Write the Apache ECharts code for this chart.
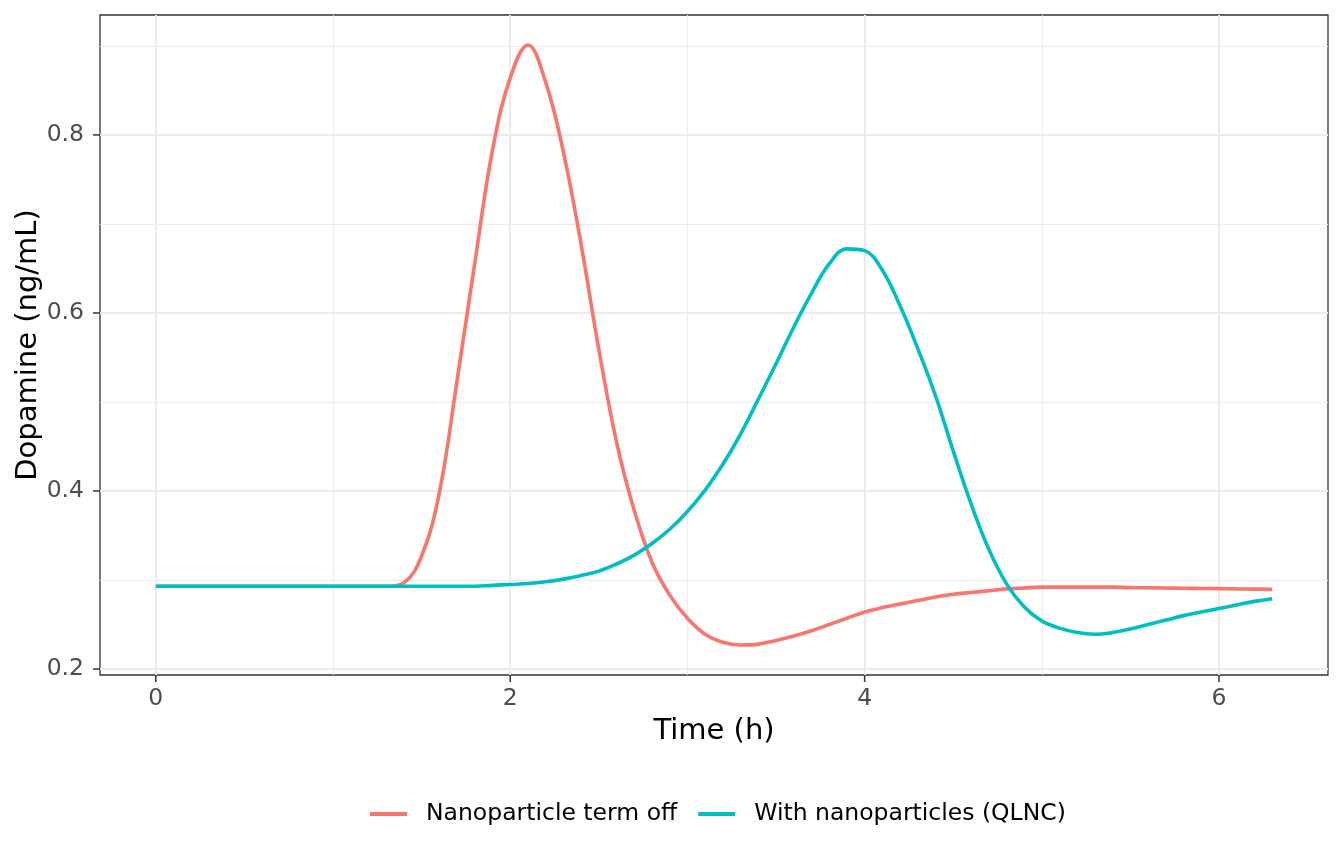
<!DOCTYPE html>
<html lang="en">
<head>
    <meta charset="UTF-8">
    <title>Dopamine</title>
    <script src="https://cdn.jsdelivr.net/npm/echarts@6/dist/echarts.min.js"></script>
    <style>
        html, body { margin: 0; padding: 0; background: #fff; }
        #main { width: 1344px; height: 864px; }
    </style>
</head>
<body>
<div id="main"></div>
<script>
    // time grid (h)
    var timeH = [];
    for (var i = 0; i <= 63; i++) timeH.push(+(i * 0.1).toFixed(1));

    // Nanoparticle term off
    var termOff = [
        0.293, 0.293, 0.293, 0.293, 0.293, 0.293, 0.293, 0.293, 0.293, 0.293,
        0.293, 0.293, 0.293, 0.293, 0.297, 0.327, 0.398, 0.524, 0.656, 0.783,
        0.864, 0.901, 0.859, 0.781, 0.677, 0.559, 0.455, 0.378, 0.320, 0.283,
        0.257, 0.239, 0.230, 0.227, 0.228, 0.232, 0.237, 0.243, 0.250, 0.257,
        0.264, 0.269, 0.273, 0.277, 0.281, 0.284, 0.286, 0.288, 0.290, 0.291,
        0.292, 0.292, 0.292, 0.292, 0.292, 0.2915, 0.2913, 0.291, 0.2907, 0.2905,
        0.2903, 0.290, 0.2898, 0.2895
    ];

    // With nanoparticles (QLNC)
    var withNano = [
        0.293, 0.293, 0.293, 0.293, 0.293, 0.293, 0.293, 0.293, 0.293, 0.293,
        0.293, 0.293, 0.293, 0.293, 0.293, 0.293, 0.293, 0.293, 0.293, 0.294,
        0.295, 0.296, 0.298, 0.301, 0.305, 0.310, 0.318, 0.328, 0.341, 0.357,
        0.377, 0.401, 0.430, 0.464, 0.503, 0.543, 0.584, 0.622, 0.655, 0.672,
        0.670, 0.648, 0.608, 0.560, 0.507, 0.445, 0.386, 0.335, 0.296, 0.270,
        0.254, 0.246, 0.241, 0.239, 0.241, 0.245, 0.250, 0.255, 0.260, 0.264,
        0.268, 0.272, 0.276, 0.279
    ];

    var seriesNames = ['Nanoparticle term off', 'With nanoparticles (QLNC)'];
    var seriesColors = ['#F8766D', '#00BFC4'];
    var xTicks = [0, 2, 4, 6];
    var yTicks = [0.2, 0.4, 0.6, 0.8];

    function pairs(xs, ys) {
        var out = [];
        for (var k = 0; k < ys.length; k++) out.push([xs[k], ys[k]]);
        return out;
    }

    var font = 'DejaVu Sans';
    var xMin = -0.315, xMax = 6.615;
    var yMin = 0.1933, yMax = 0.9347;
    var dark = '#333333';
    var tickLen = 7;

    var myChart = echarts.init(document.getElementById('main'));

    var option = {
        backgroundColor: '#fff',
        animation: false,
        textStyle: { fontFamily: font },
        grid: {
            left: 100, right: 16, top: 15, bottom: 189,
            show: true, borderColor: dark, borderWidth: 1.3,
            backgroundColor: 'transparent'
        },
        legend: {
            left: 365, top: 795,
            itemWidth: 37, itemHeight: 4, itemGap: 21,
            icon: 'rect',
            data: seriesNames,
            textStyle: { fontFamily: font, fontSize: 23.5, color: '#000', padding: [0, 0, 0, 14], lineHeight: 28 }
        },
        xAxis: [{
            type: 'value', min: xMin, max: xMax, splitNumber: 4,
            name: 'Time (h)', nameLocation: 'middle', nameGap: 42, nameMoveOverlap: false,
            nameTextStyle: { fontFamily: font, fontSize: 29, color: '#000' },
            axisLine: { show: false, onZero: false },
            axisTick: { show: false },
            axisLabel: { customValues: xTicks, margin: 12, fontSize: 23.5, color: '#4D4D4D', fontFamily: font },
            splitLine: { show: true, showMinLine: false, showMaxLine: false, lineStyle: { color: '#EBEBEB', width: 2 } }
        }, {
            // minor grid lines
            type: 'value', min: xMin, max: xMax, splitNumber: 7, position: 'bottom',
            axisLine: { show: false, onZero: false }, axisTick: { show: false }, axisLabel: { show: false },
            splitLine: { show: true, showMinLine: false, showMaxLine: false, lineStyle: { color: '#EBEBEB', width: 1 } }
        }],
        yAxis: [{
            type: 'value', min: yMin, max: yMax, splitNumber: 4,
            name: 'Dopamine (ng/mL)', nameLocation: 'middle', nameGap: 57, nameMoveOverlap: false,
            nameTextStyle: { fontFamily: font, fontSize: 29, color: '#000' },
            axisLine: { show: false, onZero: false },
            axisTick: { show: false },
            axisLabel: {
                customValues: yTicks, margin: 16, fontSize: 23.5, color: '#4D4D4D', fontFamily: font,
                formatter: function (v) { return v.toFixed(1); }
            },
            splitLine: { show: true, showMinLine: false, showMaxLine: false, lineStyle: { color: '#EBEBEB', width: 2 } }
        }, {
            // minor grid lines
            type: 'value', min: yMin, max: yMax, splitNumber: 7, position: 'left',
            axisLine: { show: false, onZero: false }, axisTick: { show: false }, axisLabel: { show: false },
            splitLine: { show: true, showMinLine: false, showMaxLine: false, lineStyle: { color: '#EBEBEB', width: 1 } }
        }],
        series: [{
            name: seriesNames[0], type: 'line', data: pairs(timeH, termOff),
            showSymbol: false, symbol: 'none', smooth: 0.4,
            lineStyle: { color: seriesColors[0], width: 3.6 },
            itemStyle: { color: seriesColors[0] }, z: 3
        }, {
            name: seriesNames[1], type: 'line', data: pairs(timeH, withNano),
            showSymbol: false, symbol: 'none', smooth: 0.4,
            lineStyle: { color: seriesColors[1], width: 3.6 },
            itemStyle: { color: seriesColors[1] }, z: 4
        }]
    };

    myChart.setOption(option);

    // tick marks outside the panel, positions from the chart's own scales
    var tickEls = [];
    xTicks.forEach(function (v) {
        var p = myChart.convertToPixel({ xAxisIndex: 0, yAxisIndex: 0 }, [v, yMin]);
        tickEls.push({
            type: 'line', silent: true, z: 10,
            shape: { x1: p[0], y1: p[1], x2: p[0], y2: p[1] + tickLen },
            style: { stroke: dark, lineWidth: 1.5 }
        });
    });
    yTicks.forEach(function (v) {
        var p = myChart.convertToPixel({ xAxisIndex: 0, yAxisIndex: 0 }, [xMin, v]);
        tickEls.push({
            type: 'line', silent: true, z: 10,
            shape: { x1: p[0] - tickLen, y1: p[1], x2: p[0], y2: p[1] },
            style: { stroke: dark, lineWidth: 1.5 }
        });
    });
    myChart.setOption({ graphic: { elements: tickEls } });
</script>
</body>
</html>
